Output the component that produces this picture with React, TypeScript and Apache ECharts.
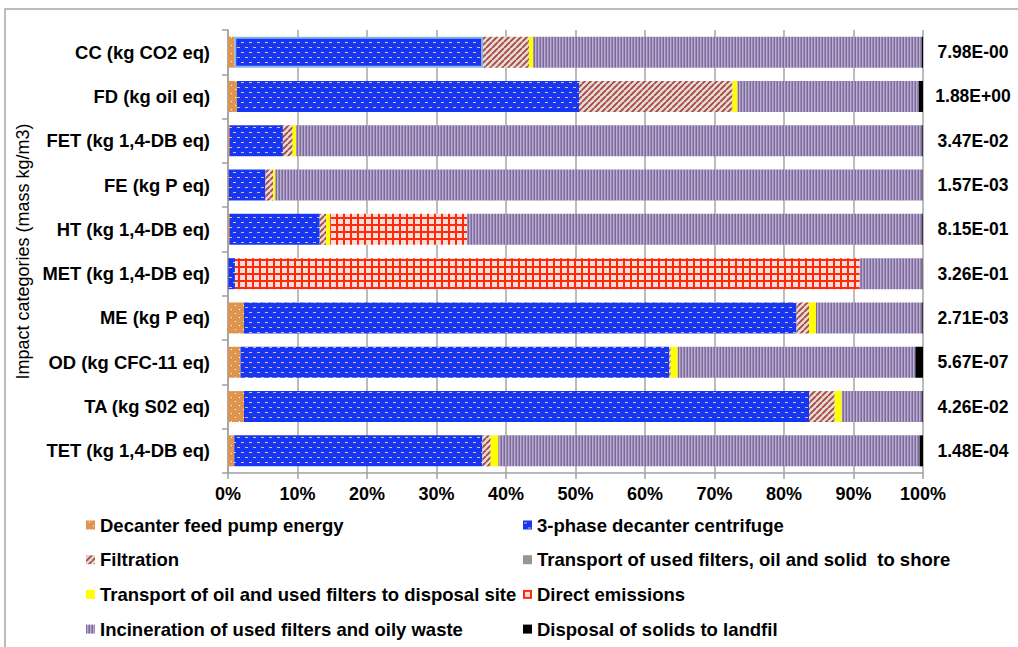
import React, { useEffect, useRef } from 'react';
import * as echarts from 'echarts';

// Impact categories, top to bottom
const categories = [
  'CC (kg CO2 eq)',
  'FD (kg oil eq)',
  'FET (kg 1,4-DB eq)',
  'FE (kg P eq)',
  'HT (kg 1,4-DB eq)',
  'MET (kg 1,4-DB eq)',
  'ME (kg P eq)',
  'OD (kg CFC-11 eq)',
  'TA (kg S02 eq)',
  'TET (kg 1,4-DB eq)',
];

// Total impact per category (mass kg/m3), shown at the right end of each bar
const totals = [
  '7.98E-00', '1.88E+00', '3.47E-02', '1.57E-03', '8.15E-01',
  '3.26E-01', '2.71E-03', '5.67E-07', '4.26E-02', '1.48E-04',
];

// Percentage contribution of each process step
const feedPump = [0.9, 1.3, 0.2, 0.1, 0.2, 0.05, 2.3, 1.8, 2.3, 0.9];
const decanter = [35.8, 49.2, 7.7, 5.3, 13.0, 0.95, 79.5, 61.7, 81.3, 35.7];
const filtration = [6.6, 22.1, 1.4, 1.1, 0.9, 0, 1.8, 0.2, 3.7, 1.2];
const transportShore = [0, 0, 0, 0, 0, 0, 0, 0, 0, 0];
const transportDisposal = [0.6, 0.7, 0.5, 0.3, 0.6, 0, 1.0, 1.0, 1.0, 1.1];
const directEmissions = [0, 0, 0, 0, 19.7, 89.9, 0, 0, 0, 0];
const incineration = [55.95, 26.1, 90.1, 93.15, 65.5, 9.05, 15.3, 34.2, 11.6, 60.6];
const landfill = [0.15, 0.6, 0.1, 0.05, 0.1, 0.05, 0.1, 1.1, 0.1, 0.5];

const seriesNames = [
  'Decanter feed pump energy',
  '3-phase decanter centrifuge',
  'Filtration',
  'Transport of used filters, oil and solid  to shore',
  'Transport of oil and used filters to disposal site',
  'Direct emissions',
  'Incineration of used filters and oily waste',
  'Disposal of solids to landfil',
];

const xTicks = [0, 10, 20, 30, 40, 50, 60, 70, 80, 90, 100];

type Painter = (ctx: CanvasRenderingContext2D) => void;

function tile(w: number, h: number, paint: Painter) {
  const c = document.createElement('canvas');
  c.width = w;
  c.height = h;
  const ctx = c.getContext('2d') as CanvasRenderingContext2D;
  paint(ctx);
  return { image: c, repeat: 'repeat', imageWidth: w, imageHeight: h } as any;
}

function buildFills() {
  const orange = tile(8, 8, (ctx) => {
    ctx.fillStyle = '#DE9550';
    ctx.fillRect(0, 0, 8, 8);
    ctx.fillStyle = '#FFFFFF';
    ctx.fillRect(3, 1, 1, 1);
    ctx.fillRect(7, 5, 1, 1);
  });
  const blue = tile(8, 10, (ctx) => {
    ctx.fillStyle = '#1537F4';
    ctx.fillRect(0, 0, 8, 10);
    ctx.fillStyle = '#E9B9AE';
    ctx.fillRect(1, 2, 3, 1);
    ctx.fillRect(5, 7, 3, 1);
  });
  const hatch = tile(6, 6, (ctx) => {
    ctx.fillStyle = '#E5DAD8';
    ctx.fillRect(0, 0, 6, 6);
    ctx.strokeStyle = '#A8473B';
    ctx.lineWidth = 1.8;
    ctx.beginPath();
    for (let k = -6; k <= 12; k += 6) {
      ctx.moveTo(k, 6);
      ctx.lineTo(k + 6, 0);
    }
    ctx.stroke();
  });
  const grid = tile(7, 7, (ctx) => {
    ctx.fillStyle = '#F8DDD8';
    ctx.fillRect(0, 0, 7, 7);
    ctx.fillStyle = '#FF2A0C';
    ctx.fillRect(0, 0, 2, 7);
    ctx.fillRect(0, 0, 7, 2);
  });
  const stripes = tile(3, 4, (ctx) => {
    ctx.fillStyle = '#7D6B9A';
    ctx.fillRect(0, 0, 1, 4);
    ctx.fillStyle = '#BCAED2';
    ctx.fillRect(1, 0, 1, 4);
    ctx.fillStyle = '#9A89B6';
    ctx.fillRect(2, 0, 1, 4);
  });
  return [orange, blue, hatch, '#969696', '#FFFF00', grid, stripes, '#000000'];
}

const FONT = '"Liberation Sans", Arial, Helvetica, sans-serif';

export default function App() {
  const ref = useRef<HTMLDivElement>(null);

  useEffect(() => {
    document.body.style.margin = '0';
    if (!ref.current) return;
    const chart = echarts.init(ref.current, undefined, { renderer: 'svg' });
    const fills = buildFills();
    const values = [
      feedPump, decanter, filtration, transportShore,
      transportDisposal, directEmissions, incineration, landfill,
    ];

    const series = seriesNames.map((name, i) => ({
      name,
      type: 'bar',
      stack: 'total',
      barWidth: 31,
      itemStyle: { color: fills[i] },
      emphasis: { disabled: true },
      data: values[i].map((v, j) =>
        i === 1 && j === 0
          ? { value: v, itemStyle: { borderColor: '#8DB3E2', borderWidth: 2 } }
          : v,
      ),
    }));

    const legendText = { fontFamily: FONT, fontSize: 18.5, fontWeight: 'bold', color: '#000', lineHeight: 20 };
    const legendBase = {
      orient: 'vertical',
      top: 515,
      padding: 0,
      itemWidth: 9,
      itemHeight: 9,
      itemGap: 14.7,
      icon: 'rect',
      selectedMode: false,
      textStyle: legendText,
    };

    chart.setOption({
      animation: false,
      backgroundColor: '#FFFFFF',
      grid: { left: 228, right: 95, top: 30, bottom: 174, containLabel: false },
      xAxis: {
        type: 'value',
        min: 0,
        max: 100,
        interval: 10,
        axisLine: { show: true, lineStyle: { color: '#A0A0A0', width: 1.5 } },
        axisTick: { show: true, length: 6, lineStyle: { color: '#A0A0A0', width: 1.5 } },
        splitLine: { show: true, lineStyle: { color: '#A6A6A6', width: 1.5 } },
        axisLabel: {
          margin: 12,
          fontFamily: '"Liberation Sans Narrow", "Arial Narrow", ' + FONT,
          fontSize: 18,
          fontWeight: 'bold',
          color: '#000',
          formatter: (v: number) => (xTicks.includes(v) ? v + '%' : ''),
        },
      },
      yAxis: [
        {
          type: 'category',
          inverse: true,
          data: categories,
          name: 'Impact categories (mass kg/m3)',
          nameLocation: 'middle',
          nameRotate: 90,
          nameGap: 186,
          nameTextStyle: { fontFamily: FONT, fontSize: 18, color: '#000' },
          axisLine: { show: true, lineStyle: { color: '#A0A0A0', width: 1.5 } },
          axisTick: { show: true, length: 6, lineStyle: { color: '#A0A0A0', width: 1.5 } },
          axisLabel: { margin: 18, fontFamily: FONT, fontSize: 18.4, fontWeight: 'bold', color: '#000' },
        },
        {
          type: 'category',
          inverse: true,
          position: 'right',
          data: totals,
          axisLine: { show: false },
          axisTick: { show: false },
          axisLabel: { margin: 50, align: 'center', fontFamily: FONT, fontSize: 17.5, fontWeight: 'bold', color: '#000' },
        },
      ],
      legend: [
        {
          ...legendBase,
          left: 86,
          data: [seriesNames[0], seriesNames[2], seriesNames[4], seriesNames[6]],
        },
        {
          ...legendBase,
          left: 523,
          data: [seriesNames[1], seriesNames[3], seriesNames[5], seriesNames[7]],
        },
      ],
      graphic: [
        {
          type: 'rect',
          silent: true,
          shape: { x: 5, y: 9, width: 1100, height: 700 },
          style: { fill: 'none', stroke: '#A6A6A6', lineWidth: 1.5 },
        },
      ],
      series,
    });

    return () => chart.dispose();
  }, []);

  return <div ref={ref} style={{ width: 1018, height: 647 }} />;
}
